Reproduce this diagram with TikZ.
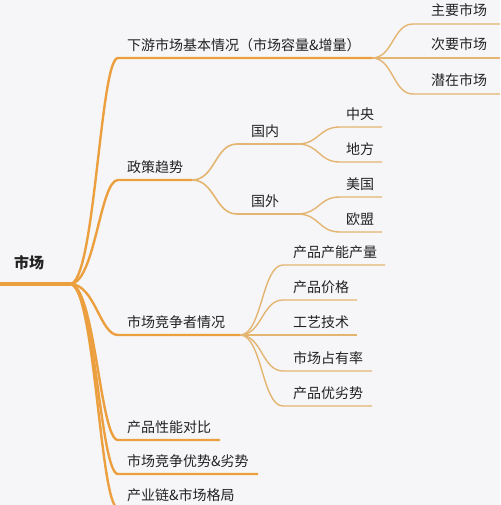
\documentclass[tikz,border=0pt]{standalone}
\usepackage{fontspec}
\setmainfont{Noto Sans CJK SC}
\usepackage{xcolor}
\usepackage{tikz}
\definecolor{bgc}{HTML}{F6F6F9}
\definecolor{mainc}{HTML}{EC9F3E}
\definecolor{subc}{HTML}{E4B571}
\definecolor{txtc}{HTML}{222222}

\begin{document}
\begin{tikzpicture}[x=1pt,y=-1pt,
		lab/.style={anchor=west,inner sep=0pt,text=txtc,font=\fontsize{14}{16}\selectfont},
		rootline/.style={draw=mainc,line width=3.2pt},
		lineA/.style={draw=mainc,line width=2.4pt},
		lineB/.style={draw=subc,line width=1.6pt},
		lineC/.style={draw=subc,line width=1.4pt}]
				\fill[bgc] (0,0) rectangle (500,505);
				\useasboundingbox (0,0) rectangle (500,505);
				
				% root
				\coordinate (R0) at (0,284);
				\coordinate (R) at (70,284);
				\node[lab,font=\fontsize{15}{16}\selectfont\bfseries] (M) at (14,263) {市场};
				\draw[rootline] (R0)--(R);
				
				% first level
				\foreach \x/\t/\y/\e in
				{A/下游市场基本情况（市场容量\&增量）/58/372, B/政策趋势/180/192,
				 C/市场竞争者情况/335/240, D/产品性能对比/440/220,
				 E/市场竞争优势\&劣势/474/258, F/产业链\&市场格局/508/232}{
					\coordinate(\x s) at (118,\y);
					\coordinate(\x e) at (\e,\y);
					\node[lab] (\x) at (127,\y-13) {\t};
					\draw[lineA] (R) .. controls (95,284) and (100,\y) .. (\x s) -- (\x e);
				}
				
				% markets
				\foreach \x/\t/\y in
				{A1/主要市场/24, A2/次要市场/58, A3/潜在市场/94}{
					\coordinate(\x s) at (413,\y);
					\coordinate(\x e) at (500,\y);
					\node[lab] (\x) at (431,\y-13.5) {\t};
					\draw[lineC] (Ae) .. controls (393,58) and (393,\y) .. (\x s) -- (\x e);
				}
				
				% policy
				\foreach \x/\t/\y in
				{B1/国内/144, B2/国外/214}{
					\coordinate(\x s) at (237,\y);
					\coordinate(\x e) at (297,\y);
					\node[lab] (\x) at (251,\y-13) {\t};
					\draw[lineB] (Be) .. controls (215,180) and (215,\y) .. (\x s) -- (\x e);
				}
				\foreach \p/\q/\x/\t/\y in
				{B1/144/B11/中央/127, B1/144/B12/地方/162, B2/214/B21/美国/197, B2/214/B22/欧盟/232}{
					\coordinate(\x s) at (340,\y);
					\coordinate(\x e) at (382,\y);
					\node[lab] (\x) at (346,\y-13) {\t};
					\draw[lineC] (\p e) .. controls (320,\q) and (318,\y) .. (\x s) -- (\x e);
				}
				
				% competitors
				\foreach \x/\t/\y/\e in
				{C1/产品产能产量/265/385, C2/产品价格/300/357, C3/工艺技术/335/357,
				 C4/市场占有率/371/372, C5/产品优劣势/406/372}{
					\coordinate(\x s) at (283,\y);
					\coordinate(\x e) at (\e,\y);
					\node[lab] (\x) at (293,\y-13) {\t};
					\draw[lineC] (Ce) .. controls (262,335) and (262,\y) .. (\x s) -- (\x e);
				}
			\end{tikzpicture}
\end{document}
